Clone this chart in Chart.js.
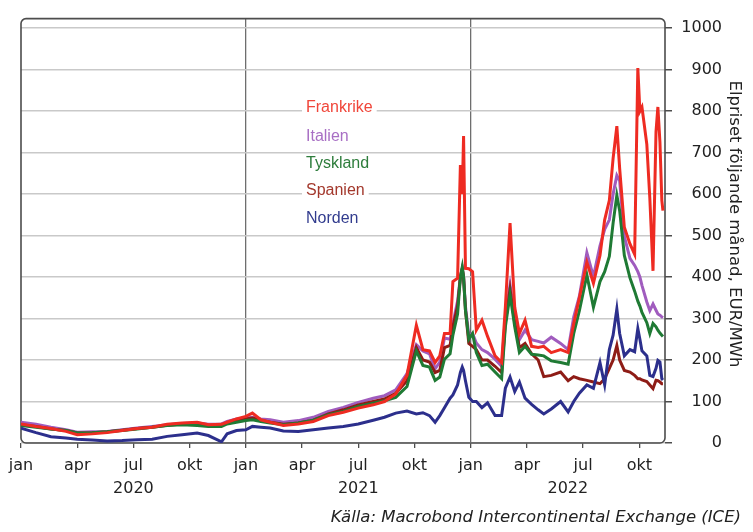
<!DOCTYPE html>
<html>
<head>
<meta charset="utf-8">
<script src="https://cdn.jsdelivr.net/npm/chart.js@4.4.0/dist/chart.umd.min.js"></script>
<style>
  body { margin: 0; background: #fff; }
  canvas { display: block; }
</style>
</head>
<body>
<canvas id="chart" width="753" height="532"></canvas>
<script>
// x = months since jan 2020
const months = [0,0.8,1.6,2.4,3.0,3.8,4.6,5.4,6.2,7.0,
  7.8,8.6,9.4,10.0,10.7,11.0,11.5,12.0,12.35,12.8,
  13.3,14.0,14.8,15.6,16.4,17.2,18.0,18.8,19.4,20.0,
  20.6,21.1,21.45,21.8,22.1,22.35,22.6,22.9,23.05,23.3,
  23.45,23.55,23.62,23.72,23.9,24.1,24.3,24.6,24.9,25.3,
  25.65,25.85,26.1,26.35,26.6,26.9,27.25,27.6,27.9,28.3,
  28.8,29.2,29.5,29.8,30.2,30.55,30.9,31.15,31.4,31.6,
  31.8,31.95,32.2,32.5,32.75,32.92,33.03,33.14,33.4,33.56,
  33.73,33.89,33.99,34.1,34.2,34.26];

const frankrike = [46,40,35,28,20,22,25,30,35,38,
  45,48,50,44,45,50,58,64,72,56,
  50,42,46,52,66,74,84,92,100,118,
  163,284,225,222,194,210,264,264,389,397,
  670,600,740,421,420,413,272,296,257,210,
  194,327,530,327,264,296,233,230,233,218,
  225,218,288,350,436,385,452,538,585,686,
  764,662,520,480,455,904,800,810,720,590,
  415,750,810,725,585,560];

const italien = [50,45,38,32,26,27,28,32,36,40,
  44,47,48,45,46,52,58,60,62,58,
  56,50,54,62,76,86,98,108,114,128,
  167,237,222,215,179,195,253,250,288,342,
  400,421,400,330,260,264,241,225,218,202,
  185,304,381,304,249,272,249,245,241,255,
  240,225,304,354,459,401,475,515,538,600,
  645,632,498,445,428,413,400,380,340,319,
  335,320,311,308,304,302];

const tyskland = [42,38,34,30,24,25,27,30,34,38,
  42,44,42,40,40,46,50,54,56,52,
  48,44,48,55,68,76,88,96,102,110,
  136,222,187,183,151,159,202,215,260,311,
  400,424,400,320,250,264,218,187,190,171,
  155,280,358,280,218,233,214,212,210,198,
  194,190,264,319,405,327,389,413,450,530,
  597,560,452,398,366,342,330,315,290,264,
  288,280,272,265,260,257];

const spanien = [44,40,34,30,24,25,27,31,35,38,
  43,46,47,43,42,48,54,58,60,55,
  50,45,48,55,70,80,92,100,106,120,
  150,230,200,195,170,175,230,235,280,330,
  400,420,400,320,240,233,225,200,200,185,
  170,290,370,290,230,240,215,200,160,163,
  171,150,160,155,151,147,143,155,180,200,
  235,200,175,171,163,155,155,152,148,140,
  131,151,150,147,143,143];

const norden = [36,25,15,12,9,7,5,6,8,9,
  16,20,24,18,3,22,30,32,40,38,
  36,29,28,32,36,40,46,55,62,72,
  77,70,73,66,50,66,85,108,116,140,
  170,183,175,150,110,100,100,85,97,66,
  66,132,159,124,147,108,93,80,70,82,
  100,75,100,120,140,132,194,140,225,260,
  323,264,210,225,220,276,250,222,210,163,
  160,180,199,195,155,152];

const monthNames = ["jan", "apr", "jul", "okt"];
const years = [2020, 2021, 2022];
const seriesNames = ["Frankrike", "Italien", "Tyskland", "Spanien", "Norden"];
const lineColors = ["#ee2b22", "#a05cbe", "#1f7a34", "#8e1c16", "#2c2f8c"];
const labelColors = ["#f0463a", "#a86fc4", "#2e7d3c", "#a3382c", "#323c8e"];
const yTitle = "Elpriset följande månad, EUR/MWh";
const source = "Källa: Macrobond Intercontinental Exchange (ICE)";

function toPoints(vals) {
  return months.map((m, i) => ({ x: m, y: vals[i] }));
}

const allSeries = [frankrike, italien, tyskland, spanien, norden];
const drawOrder = [0, 4, 2, 3, 1]; // red on top

const datasets = allSeries.map((vals, i) => ({
  label: seriesNames[i],
  data: toPoints(vals),
  borderColor: lineColors[i],
  borderWidth: 3,
  pointRadius: 0,
  tension: 0,
  order: drawOrder[i]
}));

// frame, year labels, inline legend, axis title, source
const extras = {
  id: "extras",
  beforeDatasetsDraw(chart) {
    const { ctx, chartArea: a } = chart;
    ctx.save();
    ctx.strokeStyle = "#4d4d4d";
    ctx.lineWidth = 1.6;
    ctx.beginPath();
    ctx.roundRect(a.left, a.top, a.right - a.left, a.bottom - a.top, 5);
    ctx.stroke();
    ctx.restore();
  },
  afterDraw(chart) {
    const { ctx, scales } = chart;
    const xs = scales.x;
    ctx.save();

    // years centred on their visible span
    ctx.font = "16px 'DejaVu Sans'";
    ctx.fillStyle = "#222";
    ctx.textAlign = "center";
    ctx.textBaseline = "middle";
    years.forEach((yr, k) => {
      const s = Math.max(xs.min, k * 12);
      const e = Math.min(xs.max, k * 12 + 12);
      ctx.fillText(String(yr), xs.getPixelForValue((s + e) / 2), 489);
    });

    // inline legend
    ctx.font = "16px 'Liberation Sans', Arial, sans-serif";
    ctx.textAlign = "left";
    const legendY = [108, 137, 164, 191, 219];
    seriesNames.forEach((name, i) => {
      const w = ctx.measureText(name).width;
      ctx.fillStyle = "#fff";
      ctx.fillRect(302, legendY[i] - 10, w + 8, 20);
      ctx.fillStyle = labelColors[i];
      ctx.fillText(name, 306, legendY[i]);
    });

    // y axis title
    ctx.save();
    ctx.translate(734, 224);
    ctx.rotate(Math.PI / 2);
    ctx.font = "16.5px 'DejaVu Sans'";
    ctx.fillStyle = "#222";
    ctx.textAlign = "center";
    ctx.fillText(yTitle, 0, 0);
    ctx.restore();

    // source
    ctx.font = "italic 16.5px 'DejaVu Sans'";
    ctx.fillStyle = "#222";
    ctx.textAlign = "right";
    ctx.fillText(source, 741, 518);
    ctx.restore();
  }
};

new Chart(document.getElementById("chart"), {
  type: "line",
  data: { datasets },
  plugins: [extras],
  options: {
    responsive: false,
    animation: false,
    layout: { padding: { left: 21, top: 6, right: 31, bottom: 0 } },
    plugins: { legend: { display: false }, tooltip: { enabled: false } },
    scales: {
      x: {
        type: "linear",
        min: 0,
        max: 34.37,
        afterFit(scale) { scale.height = 89; },
        border: { display: false },
        grid: {
          color: (c) => (c.tick && c.tick.value > 0 && c.tick.value % 12 === 0) ? "#6e6e6e" : "rgba(0,0,0,0)",
          lineWidth: 1.3,
          tickColor: "#4d4d4d",
          tickLength: 5
        },
        ticks: {
          stepSize: 3,
          includeBounds: false,
          autoSkip: false,
          maxRotation: 0,
          padding: 8,
          color: "#222",
          font: { family: "DejaVu Sans", size: 16 },
          callback: (v) => monthNames[(Math.round(v) % 12) / 3]
        }
      },
      y: {
        position: "right",
        min: 0,
        max: 1023,
        afterFit(scale) { scale.width = 57; },
        border: { display: false },
        grid: {
          color: "#c9c9c9",
          lineWidth: 1.5,
          tickColor: "#4d4d4d",
          tickLength: 7
        },
        ticks: {
          stepSize: 100,
          includeBounds: false,
          crossAlign: "far",
          padding: 9,
          color: "#222",
          font: { family: "DejaVu Sans", size: 16 },
          callback: (v) => String(v)
        }
      }
    }
  }
});
</script>
</body>
</html>
